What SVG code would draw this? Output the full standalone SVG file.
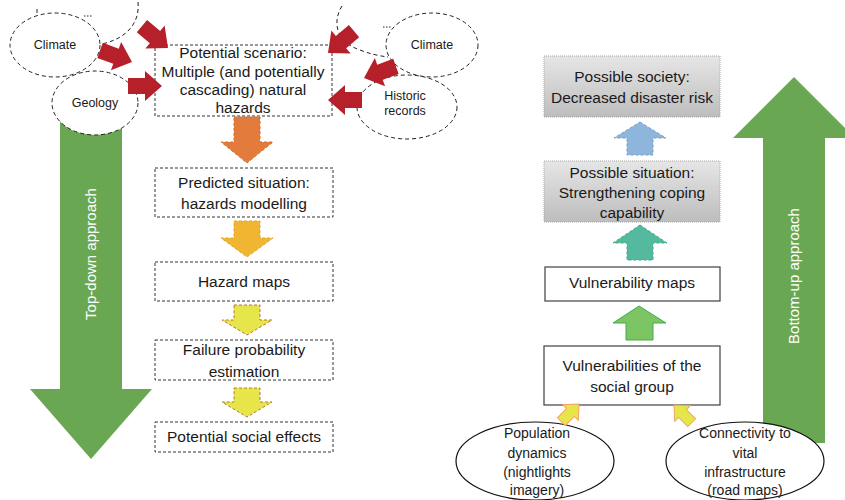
<svg xmlns="http://www.w3.org/2000/svg" xmlns:xlink="http://www.w3.org/1999/xlink" width="845" height="500" viewBox="0 0 845 500">
<style>
text{font-family:"Liberation Sans",Arial,sans-serif;fill:#1a1a1a;text-anchor:middle}
.bt{font-size:15.5px}
.et{font-size:12.5px}
.bt2{font-size:14px}
.wt{font-size:15px;fill:#ffffff}
.dbox{fill:#ffffff;stroke:#333;stroke-width:1;stroke-dasharray:3,2}
.gbox{fill:url(#gg);stroke:#a6a6a6;stroke-width:1;stroke-dasharray:1,1}
.sbox{fill:#ffffff;stroke:#404040;stroke-width:1.2}
.dell{fill:none;stroke:#222;stroke-width:1;stroke-dasharray:4,3}
.sell{fill:#ffffff;stroke:#111;stroke-width:1.2}
.red{fill:#b5202a}
.big{fill:#6aa753}
.ya{fill:#e6e64a;stroke:#f4a460;stroke-width:1}
</style>
<defs>
<linearGradient id="gg" x1="0" y1="0" x2="0" y2="1">
<stop offset="0" stop-color="#e6e6e6"/>
<stop offset="1" stop-color="#bdbdbd"/>
</linearGradient>
<path id="ra" d="M0,0 L-17,-15 L-17,-8 L-34,-8 L-34,8 L-17,8 L-17,15 Z"/>
<path id="sa" d="M0,0 L-12,-11 L-12,-5.5 L-25,-5.5 L-25,5.5 L-12,5.5 L-12,11 Z"/>
</defs>

<!-- big approach arrows -->
<g id="topdown">
<path class="big" d="M60,118 H122 V389 H152 L91,459 L30,389 H60 Z"/>
<text class="wt" transform="translate(96,254) rotate(-90)">Top-down approach</text>
</g>
<g id="bottomup">
<path class="big" d="M763,443 V138 H733 L794,77 L855,138 H825 V443 Z"/>
<text class="wt" transform="translate(799,276) rotate(-90)">Bottom-up approach</text>
</g>

<!-- input ellipses top-left -->
<g id="fragments">
<path class="dell" d="M138,2 C140,22 128,38 102,44"/>
<path class="dell" d="M37,9 V14"/>
<path d="M84,16 H93" stroke="#222" stroke-width="1" stroke-dasharray="1.5,1.5"/>
<path class="dell" d="M342,6 C332,22 336,42 360,50 C370,54 380,56 388,57"/>
<path d="M383,27 H391" stroke="#222" stroke-width="1" stroke-dasharray="1.5,1.5"/>
</g>
<g id="geology">
<ellipse cx="95" cy="103" rx="43" ry="32" fill="#ffffff" stroke="#222" stroke-width="1" stroke-dasharray="4,3"/>
<text class="et" x="95" y="107">Geology</text>
</g>
<g id="climate-left">
<ellipse class="dell" cx="55" cy="45" rx="45" ry="32"/>
<text class="et" x="55" y="49">Climate</text>
</g>
<g id="climate-right">
<ellipse class="dell" cx="432" cy="45" rx="46" ry="32"/>
<text class="et" x="432" y="49">Climate</text>
</g>
<g id="historic">
<ellipse class="dell" cx="407" cy="107" rx="50" ry="32"/>
<text class="et" x="405" y="100">Historic</text>
<text class="et" x="405" y="115">records</text>
</g>

<!-- left chain boxes -->
<g id="scenario">
<rect class="dbox" x="155" y="45" width="177" height="71"/>
<text class="bt" x="243" y="58">Potential scenario:</text>
<text class="bt" x="243" y="77">Multiple (and potentially</text>
<text class="bt" x="243" y="95">cascading) natural</text>
<text class="bt" x="243" y="113">hazards</text>
</g>
<g id="predicted">
<rect class="dbox" x="155" y="168" width="178" height="49"/>
<text class="bt" x="244" y="188">Predicted situation:</text>
<text class="bt" x="244" y="209">hazards modelling</text>
</g>
<g id="hazardmaps">
<rect class="dbox" x="155" y="262" width="178" height="39"/>
<text class="bt" x="244" y="287">Hazard maps</text>
</g>
<g id="failure">
<rect class="dbox" x="155" y="340" width="178" height="40"/>
<text class="bt" x="244" y="355">Failure probability</text>
<text class="bt" x="244" y="377">estimation</text>
</g>
<g id="social-effects">
<rect class="dbox" x="155" y="422" width="178" height="30"/>
<text class="bt" x="244" y="442">Potential social effects</text>
</g>

<!-- right chain boxes -->
<g id="society">
<rect class="gbox" x="544" y="56" width="176" height="61"/>
<text class="bt" x="632" y="82">Possible society:</text>
<text class="bt" x="632" y="103">Decreased disaster risk</text>
</g>
<g id="situation">
<rect class="gbox" x="544" y="161" width="176" height="61"/>
<text class="bt" x="632" y="178">Possible situation:</text>
<text class="bt" x="632" y="198">Strengthening coping</text>
<text class="bt" x="632" y="218">capability</text>
</g>
<g id="vulmaps">
<rect class="sbox" x="545" y="267" width="175" height="34"/>
<text class="bt" x="632" y="288">Vulnerability maps</text>
</g>
<g id="vulgroup">
<rect class="sbox" x="544" y="346" width="176" height="59"/>
<text class="bt" x="632" y="371">Vulnerabilities of the</text>
<text class="bt" x="632" y="392">social group</text>
</g>
<g id="population">
<ellipse class="sell" cx="535" cy="461" rx="79" ry="39"/>
<text class="bt2" x="537" y="438">Population</text>
<text class="bt2" x="537" y="458">dynamics</text>
<text class="bt2" x="537" y="477">(nightlights</text>
<text class="bt2" x="537" y="495">imagery)</text>
</g>
<g id="connectivity">
<ellipse class="sell" cx="745" cy="461" rx="79" ry="39"/>
<text class="bt2" x="745" y="438">Connectivity to</text>
<text class="bt2" x="745" y="458">vital</text>
<text class="bt2" x="745" y="477">infrastructure</text>
<text class="bt2" x="745" y="495">(road maps)</text>
</g>

<!-- connectors -->
<g id="connectors">
<use xlink:href="#ra" class="red" transform="translate(132,62) rotate(20)"/>
<use xlink:href="#ra" class="red" transform="translate(168,48) rotate(40)"/>
<use xlink:href="#ra" class="red" transform="translate(162,86)"/>
<use xlink:href="#ra" class="red" transform="translate(328,53) rotate(140)"/>
<use xlink:href="#ra" class="red" transform="translate(364,78) rotate(160)"/>
<use xlink:href="#ra" class="red" transform="translate(328,100) rotate(180)"/>

<path d="M234,117 H260 V142 H273 L247,163 L221,142 H234 Z" fill="#e27b3b" stroke="#d0702f" stroke-width="1" stroke-dasharray="3,2"/>
<path d="M234,221 H260 V238 H273 L247,257 L221,238 H234 Z" fill="#f0b632" stroke="#e0a52a" stroke-width="1" stroke-dasharray="3,2"/>
<path d="M234,305 H260 V320 H272 L247,335 L222,320 H234 Z" fill="#e6e64a" stroke="#b8743a" stroke-width="1" stroke-dasharray="3,2"/>
<path d="M234,388 H260 V402 H272 L247,417 L222,402 H234 Z" fill="#e6e64a" stroke="#b8743a" stroke-width="1" stroke-dasharray="3,2"/>

<path d="M640,122 L666,138 H653 V155 H627 V138 H614 Z" fill="#8eb5db" stroke="#7a9fc4" stroke-width="1" stroke-dasharray="3,2"/>
<path d="M640,225 L667,243 H653 V260 H627 V243 H613 Z" fill="#55b9a0" stroke="#3fa888" stroke-width="1" stroke-dasharray="3,2"/>
<path d="M639,306 L666,323 H653 V340 H626 V323 H613 Z" fill="#7dc462" stroke="#3fae4f" stroke-width="1"/>

<use xlink:href="#sa" class="ya" transform="translate(579,404) rotate(-45)"/>
<use xlink:href="#sa" class="ya" transform="translate(674,405) rotate(-135)"/>
</g>
</svg>
